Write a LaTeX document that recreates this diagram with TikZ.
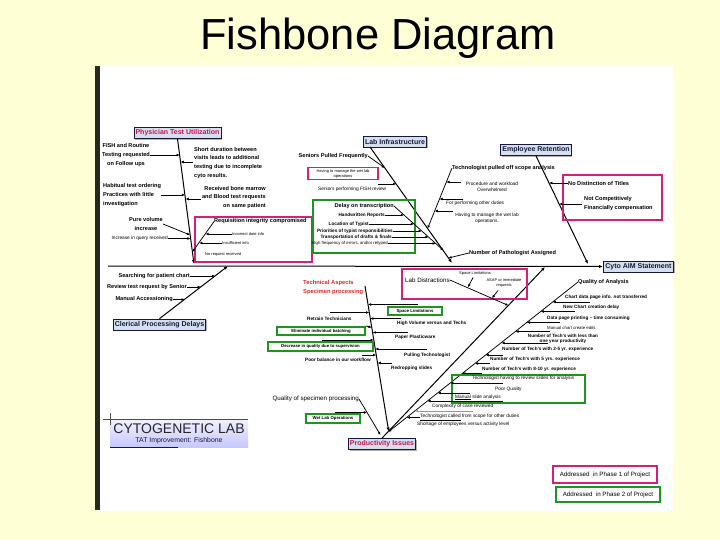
\documentclass[tikz,border=0pt]{standalone}
\usepackage{fontspec}
\setmainfont{Liberation Sans}
\usetikzlibrary{arrows.meta,shadows}
\definecolor{bgY}{RGB}{255,255,214}
\definecolor{pinkB}{RGB}{214,30,122}
\definecolor{greenB}{RGB}{30,150,30}
\definecolor{navy}{RGB}{20,25,60}
\definecolor{boxF}{RGB}{214,223,238}
\definecolor{magT}{RGB}{200,20,80}
\definecolor{redT}{RGB}{220,40,40}
\definecolor{barC}{RGB}{40,40,30}
\begin{document}
\begin{tikzpicture}[x=1pt,y=-1pt,
 labB/.style={inner sep=0pt,font=\bfseries\fontsize{5.6}{8.6}\selectfont},
 labR/.style={inner sep=0pt,font=\fontsize{6.2}{7.5}\selectfont},
 labSB/.style={inner sep=0pt,font=\bfseries\fontsize{4.7}{5.6}\selectfont},
 labXS/.style={inner sep=0pt,font=\fontsize{4.8}{5.6}\selectfont},
 labXXS/.style={inner sep=0pt,font=\fontsize{4}{5}\selectfont},
 catbox/.style={draw=navy,line width=0.8pt,fill=boxF,inner sep=1.5pt,minimum height=11pt,font=\bfseries\fontsize{7}{8}\selectfont,text=navy,drop shadow={shadow xshift=1.2pt,shadow yshift=-1.2pt,fill=black!50,opacity=0.6}},
 bone/.style={line width=1pt,-{Latex[length=4pt,width=3.2pt]}},
 arr/.style={line width=0.75pt,-{Latex[length=3.2pt,width=2.8pt]}},
 pinkfr/.style={draw=pinkB,line width=1.6pt},
 greenfr/.style={draw=greenB,line width=1.6pt},
 gnode/.style={greenfr,inner sep=0pt,font=\bfseries\fontsize{4.3}{5}\selectfont}
]
\useasboundingbox (0,0) rectangle (720,540);
\fill[bgY] (0,0) rectangle (720,540);
\fill[white] (97,66) rectangle (673,511);
\fill[barC] (95,66) rectangle (100,510);
\node[font=\fontsize{43.5}{48}\selectfont,anchor=base,inner sep=0pt] (title) at (378,50) {Fishbone Diagram};

% ---------- spine ----------
\coordinate (sp0) at (108,266);
\node[catbox,anchor=west,minimum width=70pt] (aim) at (603,266.5) {Cyto AIM Statement};
\draw[bone] (sp0) -- (aim.west);

% ---------- Physician Test Utilization ----------
\node[catbox,text=magT] (phys) at (177.5,133) {Physician Test Utilization};
\coordinate (b1e) at (194,264);
\draw[bone] (phys.south) -- (b1e);
\node[labB,align=center] (fish) at (126,155) {FISH and Routine\\Testing requested\\on Follow ups};
\coordinate (p1) at (179.7,155);
\draw[arr] (fish.east) -- (p1);
\node[labB,align=left,anchor=north west] (short) at (194,147) {Short duration between\\visits leads to additional\\testing due to incomplete\\cyto results.};
\coordinate (s0) at (193,162); \coordinate (p2) at (180.6,162);
\draw[arr] (s0) -- (p2);
\node[labB,align=left,anchor=west] (habit) at (103,195) {Habitual test ordering\\Practices with little\\investigation};
\coordinate (p3) at (185.1,195);
\draw[arr] (habit.east) -- (p3);
\node[labB,align=right,anchor=north east] (recv) at (266,186) {Received bone marrow\\and Blood test requests\\on same patient};
\coordinate (r0) at (201,199); \coordinate (p4) at (185.6,199);
\draw[arr] (r0) -- (p4);
\node[labB,align=center] (pure) at (146,224) {Pure volume\\increase};
\coordinate (p5) at (190.1,235);
\draw[arr] (pure.east) -- (p5);
\node[labXS,anchor=east] (incq) at (168,238.5) {Increase in query received};
\coordinate (p6) at (190.6,238.5);
\draw[arr] (incq.east) -- (p6);
\draw[pinkfr] (195,217) rectangle (312,262);
\node[labB,anchor=west] (req) at (214,221.5) {Requisition integrity compromised};
\coordinate (p7) at (192.4,252);
\draw[arr] (req.west) -- (p7);
\node[labXXS,anchor=west] (incd) at (232,234) {Incorrect date info};
\coordinate (r1) at (205.5,234);
\draw[arr] (incd.west) -- (r1);
\node[labXXS,anchor=west] (insf) at (222,243) {Insufficient info};
\coordinate (r2) at (199.2,243);
\draw[arr] (insf.west) -- (r2);
\node[labXXS,anchor=west] (noreq) at (205,254) {No request received};

% ---------- Lab Infrastructure ----------
\node[catbox] (labinf) at (395,141.5) {Lab Infrastructure};
\coordinate (b2s) at (370,147); \coordinate (b2e) at (452,263);
\draw[bone] (b2s) -- (b2e);
\node[labB,anchor=east] (seniors) at (368,156) {Seniors Pulled Frequently};
\coordinate (q1) at (384.8,168);
\draw[arr] (seniors.east) -- (q1);
\node[labXXS,draw=pinkB,line width=1.5pt,align=center,inner sep=1pt,minimum width=70pt,minimum height=12pt] (having) at (343,173.5) {Having to manage the wet lab\\operations};
\node[labXS,anchor=west] (fishrev) at (318,189) {Seniors performing FISH review};
\coordinate (f0) at (378,184); \coordinate (q2) at (396.2,184);
\draw[arr] (f0) -- (q2);
\draw[greenfr] (313,200) rectangle (415,253);
\node[labB,anchor=east] (delay) at (394,206) {Delay on transcription};
\coordinate (dle) at (443.5,250.5);
\draw[arr] (delay.east) -- (dle);
\node[labSB,anchor=east] (hand) at (385,215) {Handwritten Reports};
\coordinate (d1) at (404,215); \draw[arr] (hand.east) -- (d1);
\node[labSB,anchor=east] (loc) at (369,224) {Location of Typist};
\coordinate (d2) at (414,224); \draw[arr] (loc.east) -- (d2);
\node[labSB,anchor=east] (prio) at (393,231) {Priorities of typist responsibilities};
\coordinate (d3) at (421.8,231); \draw[arr] (prio.east) -- (d3);
\node[labSB,anchor=east] (trans) at (392,237) {Transportation of drafts \& finals};
\coordinate (d4) at (428.5,237); \draw[arr] (trans.east) -- (d4);
\node[labXXS,font=\fontsize{4.3}{5}\selectfont,anchor=east] (high) at (388,243.5) {High frequency of errors, and/or retyped};
\coordinate (d5) at (435.7,243.5); \draw[arr] (high.east) -- (d5);

\node[labB,anchor=west] (tpull) at (452,168) {Technologist pulled off scope analysis};
\coordinate (tpe) at (427.6,228.5);
\draw[arr] (tpull.west) -- (tpe);
\node[labXS,align=center] (proc) at (492,186.5) {Procedure and workload\\Overwhelmed};
\coordinate (t1s) at (461,182); \coordinate (t1) at (446.3,182);
\draw[arr] (t1s) -- (t1);
\node[labXS,anchor=west] (forp) at (446,203.5) {For performing other duties};
\coordinate (t2s) at (463,199); \coordinate (t2) at (439.4,199);
\draw[arr] (t2s) -- (t2);
\node[labXS,align=center] (hman) at (487,218.5) {Having to manage the wet lab\\operations.};
\coordinate (t3s) at (453,211); \coordinate (t3) at (434.6,211);
\draw[arr] (t3s) -- (t3);
\node[labB,anchor=west] (npath) at (469,253) {Number of Pathologist Assigned};
\coordinate (np) at (448.5,258);
\draw[arr] (npath.west) -- (np);

% ---------- Employee Retention ----------
\node[catbox] (empret) at (536,150) {Employee Retention};
\coordinate (b3e) at (588,264);
\draw[bone] (empret.south) -- (b3e);
\draw[pinkfr] (563,175) rectangle (662,220);
\node[labB,anchor=west] (nodist) at (568,183) {No Distinction of Titles};
\coordinate (e1) at (549.2,183);
\draw[arr] (nodist.west) -- (e1);
\node[labB,align=left,anchor=north west] (notcomp) at (584,196.5) {Not Competitively\\Financially compensation};
\coordinate (e2s) at (582,204); \coordinate (e2) at (559.2,204);
\draw[arr] (e2s) -- (e2);

% ---------- Clerical Processing Delays ----------
\node[catbox] (cler) at (159.5,324.5) {Clerical Processing Delays};
\coordinate (b4e) at (228,266);
\draw[bone] (cler.north) -- (b4e);
\node[labB,anchor=east] (search) at (190,276) {Searching for patient chart};
\coordinate (c1) at (215.1,276); \draw[arr] (search.east) -- (c1);
\node[labB,anchor=east] (review) at (187,287) {Review test request by Senior};
\coordinate (c2) at (200.9,287); \draw[arr] (review.east) -- (c2);
\node[labB,anchor=east] (manacc) at (173,299.5) {Manual Accessioning};
\coordinate (c3) at (184.7,299.5); \draw[arr] (manacc.east) -- (c3);

% ---------- Productivity Issues ----------
\node[catbox,text=magT] (prod) at (382,444) {Productivity Issues};
\coordinate (d1e) at (545,267);
\draw[bone] (prod.north) -- (d1e);

% Lab distractions
\draw[pinkfr] (402,269) rectangle (527,299);
\node[labR,anchor=west] (labd) at (405,280) {Lab Distractions};
\coordinate (lde) at (508.4,305.5);
\draw[arr] (labd.east) -- (lde);
\node[labXXS] (spl) at (475,273) {Space Limitations};
\coordinate (l1s) at (473,277.5); \coordinate (l1) at (468,287.2);
\draw[arr] (l1s) -- (l1);
\node[labXXS,align=center] (asap) at (504,283) {ASAP or immediate\\requests};
\coordinate (l2s) at (498,290.5); \coordinate (l2) at (492,298.1);
\draw[arr] (l2s) -- (l2);

% Technical aspects
\node[inner sep=0pt,font=\bfseries\fontsize{5.8}{9}\selectfont,text=redT,align=left,anchor=west] (tech) at (303,287.5) {Technical Aspects\\Specimen processing};
\coordinate (tb0) at (365,286); \coordinate (tbe) at (388.7,431.5);
\draw[bone] (tb0) -- (tbe);
\node[gnode,minimum width=54pt,minimum height=8pt] (spacel) at (415,311) {Space Limitations};
\coordinate (a1s) at (418,304.5); \coordinate (a1) at (367.9,304.5);
\draw[arr] (a1s) -- (a1);
\node[labSB,anchor=west] (retrain) at (307,318.5) {Retrain Technicians};
\coordinate (a2s) at (330,312.5); \coordinate (a2) at (369.2,312.5);
\draw[arr] (a2s) -- (a2);
\node[labSB,anchor=west] (highvol) at (397,323.5) {High Volume versus and Techs};
\coordinate (a3s) at (401,318.5); \coordinate (a3) at (370.2,318.5);
\draw[arr] (a3s) -- (a3);
\node[gnode,minimum width=88pt,minimum height=8.5pt] (elim) at (321,331) {Eliminate individual batching};
\coordinate (a4) at (371.7,327.5);
\draw[arr] (elim.north east) -- (a4);
\node[labSB,anchor=west] (paper) at (395,337) {Paper Plasticware};
\coordinate (a5s) at (408,332.5); \coordinate (a5) at (372.5,332.5);
\draw[arr] (a5s) -- (a5);
\node[gnode,minimum width=105pt,minimum height=9pt] (decr) at (320.5,346.5) {Decrease in quality due to supervision};
\coordinate (a6s) at (322,340); \coordinate (a6) at (373.7,340);
\draw[arr] (a6s) -- (a6);
\node[labSB,anchor=west] (pulling) at (404,355) {Pulling Technologist};
\coordinate (a7s) at (427,349); \coordinate (a7) at (375.2,349);
\draw[arr] (a7s) -- (a7);
\node[labSB,anchor=west] (poorbal) at (305,360) {Poor balance in our workflow};
\coordinate (a8s) at (362,355); \coordinate (a8) at (376.2,355);
\draw[arr] (a8s) -- (a8);
\node[labSB,anchor=west] (redrop) at (391,368.5) {Redropping slides};
\coordinate (a9s) at (392,363); \coordinate (a9) at (377.6,363);
\draw[arr] (a9s) -- (a9);

% Quality of specimen processing
\node[inner sep=0pt,font=\fontsize{6.2}{7}\selectfont,anchor=east] (qsp) at (359,399) {Quality of specimen processing};
\coordinate (qse) at (380.5,435);
\draw[arr] (qsp.east) -- (qse);
\node[gnode,minimum width=54pt,minimum height=9pt] (wetlab) at (333,418.5) {Wet Lab Operations};
\coordinate (w0) at (335,412.5); \coordinate (w1) at (367.1,412.5);
\draw[arr] (w0) -- (w1);

% Quality of Analysis
\node[labB,anchor=west] (qa) at (578,282) {Quality of Analysis};
\coordinate (qae) at (388.2,432);
\draw[arr] (qa.west) -- (qae);
\node[labSB,anchor=west] (cdp) at (565,297) {Chart data page info. not transferred};
\coordinate (k1s) at (590,302) ; \coordinate (k1) at (552.7,302);
\draw[arr] (k1s) -- (k1);
\node[labSB,anchor=west] (ncc) at (563,307) {New Chart creation delay};
\coordinate (k2s) at (575,311.5); \coordinate (k2) at (540.7,311.5);
\draw[arr] (k2s) -- (k2);
\node[labSB,anchor=west] (dpp) at (547,318) {Data page printing -- time consuming};
\coordinate (k3s) at (560,322.5); \coordinate (k3) at (526.8,322.5);
\draw[arr] (k3s) -- (k3);
\node[labXXS,font=\fontsize{4.3}{5}\selectfont,anchor=west] (mcc) at (547,327.5) {Manual chart create edits};
\coordinate (k4s) at (550,331.5); \coordinate (k4) at (515.4,331.5);
\draw[arr] (k4s) -- (k4);
\node[labSB,align=center,font=\bfseries\fontsize{4.6}{5.2}\selectfont] (nl1) at (563,338.5) {Number of Tech's with less than\\one year productivity};
\coordinate (k5s) at (548,343); \coordinate (k5) at (501.5,343);
\draw[arr] (k5s) -- (k5);
\node[labSB,anchor=west] (n25) at (502,349.5) {Number of Tech's with 2-5 yr. experience};
\coordinate (k6s) at (503,355); \coordinate (k6) at (485.6,355);
\draw[arr] (k6s) -- (k6);
\node[labSB,anchor=west] (n5) at (490,359) {Number of Tech's with 5 yrs. experience};
\coordinate (k7s) at (490,363.5); \coordinate (k7) at (474.9,363.5);
\draw[arr] (k7s) -- (k7);
\node[labSB,anchor=west] (n810) at (482,369) {Number of Tech's with 8-10 yr. experience};
\coordinate (k8s) at (482,373.5); \coordinate (k8) at (462.2,373.5);
\draw[arr] (k8s) -- (k8);
\draw[greenfr] (452,375) rectangle (585,403);
\node[labXS,anchor=west] (thr) at (472,378.5) {Technologist having to review slides for analysis};
\coordinate (k9s) at (503,383); \coordinate (k9) at (450.2,383);
\draw[arr] (k9s) -- (k9);
\node[labXS,anchor=west] (pq) at (495,389) {Poor Quality};
\coordinate (k10s) at (470,393); \coordinate (k10) at (437.6,393);
\draw[arr] (k10s) -- (k10);
\node[labXS,anchor=west] (msa) at (455,397.5) {\underline{Manual} slide analysis};
\coordinate (k11s) at (503,401); \coordinate (k11) at (427.4,401);
\draw[arr] (k11s) -- (k11);
\node[labXS,anchor=west] (ccr) at (432,406.5) {Complexity of case reviewed};
\coordinate (k12s) at (473,411); \coordinate (k12) at (414.8,411);
\draw[arr,draw=gray!80] (k12s) -- (k12);
\node[labXS,anchor=west] (tcf) at (420,417.5) {\underline{Technologist called} from scope for other duties};
\coordinate (k13) at (406.6,417.5);
\draw[arr] (tcf.west) -- (k13);
\node[labXS,anchor=west] (sev) at (417,424.5) {Shortage of employees versus activity level};

% ---------- Logo ----------
\node[anchor=north west,minimum width=138pt,minimum height=27pt,inner sep=0pt,top color=blue!6,bottom color=blue!22!white] (logo) at (110,420) {};
\node[inner sep=0pt,font=\fontsize{14}{14}\selectfont,text=black!85] (cyto) at (179,428.5) {CYTOGENETIC LAB};
\node[inner sep=0pt,font=\fontsize{6.9}{7}\selectfont,text=navy] (tat) at (179,441) {TAT Improvement: Fishbone};
\draw[black!70,line width=0.6pt] (103,419) -- (248,419);
\draw[black!70,line width=0.6pt] (110,413) -- (110,425);
\draw[navy,line width=0.8pt] (110,447) -- (178,447);

% ---------- Legend ----------
\node[draw=pinkB,line width=2pt,font=\fontsize{6.2}{7}\selectfont,minimum width=104pt,minimum height=17pt,inner sep=1pt] (leg1) at (605,474.5) {Addressed\ \ in Phase 1 of Project};
\node[draw=greenB,line width=2pt,font=\fontsize{6.2}{7}\selectfont,minimum width=104pt,minimum height=15pt,inner sep=1pt] (leg2) at (608,494.5) {Addressed\ \ in Phase 2 of Project};
\end{tikzpicture}
\end{document}
